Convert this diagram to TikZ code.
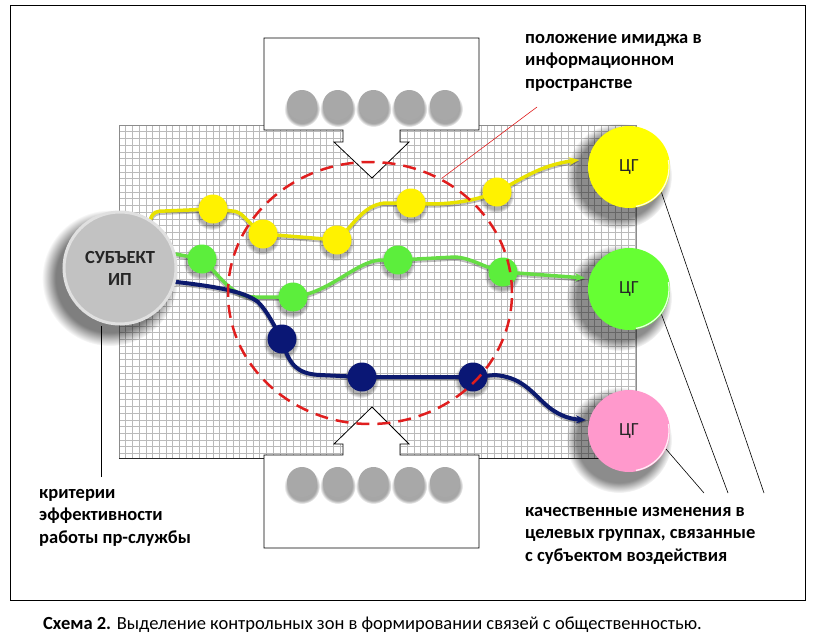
\documentclass[tikz,border=0pt]{standalone}
\usepackage{fontspec}
\setmainfont{Carlito}
\usetikzlibrary{arrows.meta,fadings,shapes.geometric}

\definecolor{subjgray}{HTML}{C2C2C2}
\definecolor{cgyellow}{HTML}{FFFF00}
\definecolor{cggreen}{HTML}{66FF33}
\definecolor{cgpink}{HTML}{FF99CC}
\definecolor{dotyellow}{HTML}{FFF200}
\definecolor{dotgreen}{HTML}{5CEE3C}
\definecolor{dotnavy}{HTML}{0A1775}
\definecolor{lineyellow}{HTML}{E8E200}
\definecolor{linegreen}{HTML}{66DD44}
\definecolor{linenavy}{HTML}{0C1A6E}
\definecolor{zonered}{HTML}{E01E1E}
\definecolor{boxgray}{HTML}{A8A8A8}

\pgfdeclarelayer{bg}
\pgfdeclarelayer{shade}
\pgfdeclarelayer{lines}
\pgfsetlayers{bg,shade,lines,main}

\tikzset{
  gridline/.style={draw=black!27, line width=0.45pt},
  ball/.style={circle, inner sep=0pt, minimum size=82pt, font=\fontsize{18.5}{20}\selectfont, text=black!85},
  dot/.style={circle, inner sep=0pt, minimum size=29pt},
  boxdot/.style={circle, inner sep=0pt, minimum size=30pt, fill=boxgray},
  blob/.style={black, opacity=#1, path fading=circle with fuzzy edge 20 percent},
  blob/.default=0.45,
  rim/.style={white, line width=1.3pt, opacity=0.85},
  route/.style={line width=3.5pt, line cap=round, -{Stealth[length=10pt,width=8pt]},
    preaction={draw=black, opacity=0.25, line width=4.5pt, transform canvas={yshift=-1.5pt}}},
  leader/.style={draw=black, line width=0.6pt},
  callbox/.style={draw=black, fill=white, line width=0.8pt},
  label/.style={font=\bfseries\fontsize{18.5}{22.5}\selectfont, align=left, inner sep=0pt},
}

\begin{document}
\begin{tikzpicture}[x=1pt,y=-1pt]
  \useasboundingbox (0,0) rectangle (815,635);

  % frame and grid
  \begin{pgfonlayer}{bg}
    \draw[line width=1pt] (10,5) rectangle (805,600);
    \begin{scope}[shift={(119,125)}]
      \draw[gridline, step=6.7pt] (0,0) grid (517,333);
      \draw[black!45] (0,0) rectangle (517,333);
      \draw[black!85, line width=1pt] (0,333) -- (517,333);
    \end{scope}
  \end{pgfonlayer}

  % subject and target groups
  \node[ball, fill=subjgray, draw=white!88!black, line width=3pt, minimum size=112pt,
        font=\bfseries\fontsize{18.5}{22}\selectfont, align=center] (subj) at (120,268) {СУБЪЕКТ\\ИП};
  \node[ball, fill=cgyellow] (cgY) at (629,167) {ЦГ};
  \node[ball, fill=cggreen] (cgG) at (629,289) {ЦГ};
  \node[ball, fill=cgpink] (cgP) at (629,431) {ЦГ};
  \foreach \b in {cgY,cgG,cgP}
    \draw[rim] ([shift={(-10:40)}]\b.center) arc[start angle=-10, end angle=80, radius=40];

  % control points
  \node[dot, fill=dotyellow] (y1) at (213,209) {};
  \node[dot, fill=dotyellow] (y2) at (263,234) {};
  \node[dot, fill=dotyellow] (y3) at (337,240) {};
  \node[dot, fill=dotyellow] (y4) at (411,203) {};
  \node[dot, fill=dotyellow] (y5) at (497,192) {};
  \node[dot, fill=dotgreen] (g1) at (202,259) {};
  \node[dot, fill=dotgreen] (g2) at (293,297) {};
  \node[dot, fill=dotgreen] (g3) at (398,260) {};
  \node[dot, fill=dotgreen] (g4) at (503,272) {};
  \node[dot, fill=dotnavy] (n1) at (282,339) {};
  \node[dot, fill=dotnavy] (n2) at (362,377) {};
  \node[dot, fill=dotnavy] (n3) at (473,377) {};

  \coordinate (yEnd) at (579,160);
  \coordinate (gEnd) at (585,278);
  \coordinate (nEnd) at (586,420);

  % shadows
  \begin{pgfonlayer}{shade}
    \fill[blob=0.5] ([shift={(-10,10)}]subj.center) circle (68);
    \foreach \b in {cgY,cgG,cgP}
      \fill[blob] ([shift={(-10,9)}]\b.center) circle (53);
    \foreach \d in {y1,y2,y3,y4,y5,g1,g2,g3,g4,n1,n2,n3}
      \fill[blob=0.3] ([shift={(-1,3)}]\d.center) circle (18);
  \end{pgfonlayer}

  % routes
  \begin{pgfonlayer}{lines}
    \draw[route, lineyellow] (subj.58) .. controls (153,212) and (156,211) .. (165,211)
      -- (y1.center) -- (232,211) .. controls (243,211) and (246,222) .. (y2.center)
      -- (y3.center) .. controls (352,228) and (362,205) .. (385,203)
      -- (y4.center) .. controls (430,205) and (465,205) .. (y5.center)
      .. controls (520,180) and (540,165) .. (yEnd);
    \draw[route, linegreen] (subj.14) -- (g1.center)
      .. controls (222,278) and (232,297) .. (255,297) -- (g2.center)
      .. controls (330,293) and (355,262) .. (380,260) -- (g3.center)
      -- (455,257) .. controls (472,258) and (485,268) .. (g4.center) -- (gEnd);
    \draw[route, linenavy, line width=4pt] (subj.-14) .. controls (220,287) and (245,292) .. (258,302)
      .. controls (268,312) and (274,326) .. (n1.center)
      .. controls (288,362) and (295,374) .. (320,375) -- (n2.center) -- (n3.center)
      -- (495,375) .. controls (520,377) and (530,390) .. (545,404)
      .. controls (556,414) and (568,419) .. (nEnd);

    % leaders
    \coordinate (critTop) at (101,477);
    \draw[leader] (critTop) -- (critTop |- subj.south);
    \coordinate (kY) at (764,493);
    \coordinate (kG) at (728,493);
    \coordinate (kP) at (704,493);
    \draw[leader] (cgY.-38) -- (kY);
    \draw[leader] (cgG.-38) -- (kG);
    \draw[leader] (cgP.-26) -- (kP);
  \end{pgfonlayer}

  % information boxes
  \draw[callbox] (264,38) -- (479,38) -- (479,130) -- (400,130) -- (400,142) -- (409,142)
    -- (372,178) -- (334,142) -- (343,142) -- (343,130) -- (264,130) -- cycle;
  \draw[callbox] (264,548) -- (479,548) -- (479,455) -- (400,455) -- (400,444) -- (409,444)
    -- (372,407) -- (334,444) -- (343,444) -- (343,455) -- (264,455) -- cycle;
  \foreach \i in {0,...,4} {
    \fill[blob=0.35] (302+35.75*\i,109) circle (18);
    \fill[blob=0.35] (302+35.75*\i,486) circle (18);
    \node[boxdot] (top\i) at (302+35.75*\i,105) {};
    \node[boxdot] (bot\i) at (302+35.75*\i,482) {};
  }

  % control zone
  \node[ellipse, draw=zonered, line width=2.5pt, dash pattern=on 13pt off 8pt,
        minimum width=284, minimum height=262, inner sep=0pt] (zone) at (370,293) {};
  \coordinate (imgTip) at (537,107);
  \draw[zonered, line width=0.6pt] (imgTip) -- (zone.58);

  % texts
  \node[label, anchor=base west] (img) at (525,88) {положение имиджа в\\информационном\\пространстве};
  \node[label, anchor=base west] (crit) at (39,543) {критерии\\эффективности\\работы пр-службы};
  \node[label, anchor=base west] (qual) at (525,561) {качественные изменения в\\целевых группах, связанные\\с субъектом воздействия};
  \node[anchor=base west, inner sep=0pt, font=\fontsize{18.5}{20}\selectfont] (caption) at (43,629)
    {\textbf{Схема 2.} Выделение контрольных зон в формировании связей с общественностью.};
\end{tikzpicture}
\end{document}
